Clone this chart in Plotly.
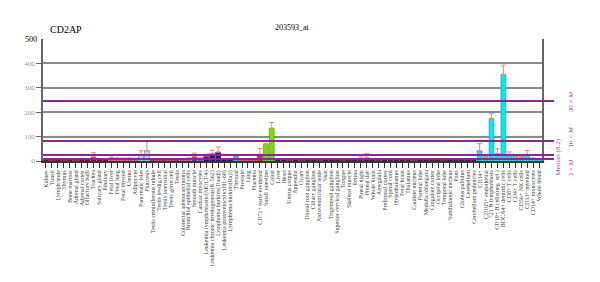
import plotly.graph_objects as go

samples = [
    "Kidney", "Tonsil", "Lymph node", "Thymus", "Bone marrow", "Adrenal gland", "Adrenal cortex",
    "Olfactory bulb", "Trachea", "Salivary gland", "Pituitary", "Fetal liver", "Fetal lung",
    "Fetal thyroid", "Uterus", "Adipocyte", "Pancreatic Islet", "Pancreas",
    "Testis seminiferous tubule", "Testis leydig cell", "Testis interstitial", "Testis germ cell",
    "Testis", "Colorectal adenocarcinoma", "Bronchial epithelial cells", "Smooth muscle",
    "Cardiac myocytes", "Leukemia lymphoblastic(MOLT-4)", "Leukemia chronic myelogenous(K-562)",
    "Lymphoma burkitts(Daudi)", "Leukemia promyelocytic(HL-60)", "Lymphoma burkitts(Raji)",
    "Thyroid", "Prostate", "Lung", "Placenta", "CD71+ early erythroid", "Small intestine",
    "Colon", "Liver", "Heart", "Uterus corpus", "Appendix", "Ovary", "Dorsal root ganglion",
    "Ciliary ganglion", "Atrioventricular node", "Skin", "Trigeminal ganglion",
    "Superior cervical ganglion", "Tongue", "Skeletal muscle", "Retina", "Pineal night",
    "Pineal day", "Whole brain", "Amygdala", "Prefrontal cortex", "Spinal cord", "Hypothalamus",
    "Fetal brain", "Thalamus", "Caudate nucleus", "Parietal lobe", "Medulla oblongata",
    "Cingulate cortex", "Occipital lobe", "Temporal lobe", "Subthalamic nucleus", "Pons",
    "Globus pallidus", "Cerebellum", "Cerebellum peduncles", "CD34+", "CD105+ endothelial",
    "721 B lymphoblasts", "CD19+ B cells(neg. sel.)", "BDCA4+ dentritic cells", "CD8+ T cells",
    "CD4+ T cells", "CD56+ NK cells", "CD33+ myeloid", "CD14+ monocytes", "Whole blood",
]

values = [
    6, 5, 7, 5, 8, 5, 6, 7, 16, 6, 7, 12, 10, 9, 10, 9, 24, 42,
    6, 5, 6, 5, 6, 7, 10, 18, 11, 20, 30, 36, 7, 8,
    21, 6, 7, 8, 27, 68, 134, 6, 8, 5, 6, 5, 6,
    6, 5, 7, 6, 6, 5, 6, 7, 9, 12, 6, 5, 6, 7, 6,
    8, 6, 5, 6, 7, 6, 6, 5, 6, 7,
    6, 7, 8, 43, 20, 174, 30, 355, 27, 20, 18, 27, 10, 9,
]

errors = [
    2, 1, 2, 1, 2, 1, 2, 2, 18, 2, 2, 4, 3, 3, 3, 3, 18, 37,
    1, 1, 1, 1, 1, 2, 3, 14, 4, 8, 14, 22, 2, 3,
    4, 1, 2, 2, 24, 4, 24, 2, 3, 1, 2, 1, 2,
    1, 1, 2, 1, 1, 1, 1, 2, 7, 18, 1, 1, 1, 2, 1,
    2, 1, 1, 1, 2, 1, 1, 1, 1, 2,
    1, 2, 2, 28, 4, 20, 20, 38, 10, 6, 4, 16, 3, 2,
]

MEDIAN = 8.2
multiples = [1, 3, 10, 30]
multiple_labels = ["Median (8.2)", "3 × <i>M</i>", "10 × <i>M</i>", "30 × <i>M</i>"]

group_colors = (
    ["#7a1838"] * 11 + ["#d86a86"] * 5 + ["#b6e4e4"] * 2 + ["#b83a5c"] * 5 +
    ["#d06a8a", "#d06a8a", "#3e5cc0", "#c05a80"] + ["#1c1a86"] * 5 + ["#30c8d8"] +
    ["#c05a80"] * 3 + ["#cc3b3b"] + ["#77dd11"] * 2 + ["#5a1850"] * 34 + ["#11e3ee"] * 11
)
line_colors = (
    ["#5a1028"] * 11 + ["#b04a66"] * 5 + ["#4aa8a8"] * 2 + ["#8a2a44"] * 5 +
    ["#a04a6a", "#a04a6a", "#2a3c90", "#a04a6a"] + ["#10105a"] * 5 + ["#1a98a8"] +
    ["#a04a6a"] * 3 + ["#992222"] + ["#4aa000"] * 2 + ["#3a1034"] * 34 + ["#10b0c0"] * 11
)

Y_MAX = 500

fig = go.Figure()
fig.add_trace(go.Bar(
    x=samples, y=values,
    marker=dict(color=group_colors, line=dict(color=line_colors, width=0.7)),
    error_y=dict(type="data", symmetric=False, array=errors, arrayminus=[0] * len(errors),
                 color="#f08c5a", thickness=1, width=2.5),
    width=0.82,
    showlegend=False,
))

serif = "Liberation Serif, Times New Roman, serif"
purple = "#8e2596"

shapes = []
for k in multiples:
    shapes.append(dict(type="line", xref="paper", yref="y", x0=0, x1=1.024,
                       y0=MEDIAN * k, y1=MEDIAN * k, line=dict(color=purple, width=2)))

annotations = [
    dict(text="CD2AP", xref="paper", yref="paper", x=0.01, y=1.02, xanchor="left", yanchor="bottom",
         showarrow=False, font=dict(family=serif, size=10, color="#000")),
    dict(text="203593_at", xref="paper", yref="paper", x=0.5, y=1.045, xanchor="center", yanchor="bottom",
         showarrow=False, font=dict(family=serif, size=8, color="#000")),
    dict(text="500", xref="paper", yref="paper", x=-0.008, y=1.0, xanchor="right", yanchor="middle",
         showarrow=False, font=dict(family=serif, size=8, color="#000")),
]
label_pos = {  # (paper x, paper y) for each multiple label
    1: (1.032, 0.036), 3: (1.058, -0.054), 10: (1.058, 0.2), 30: (1.058, 0.49),
}
for k, lab in zip(multiples, multiple_labels):
    px, py = label_pos[k]
    annotations.append(dict(text=lab, xref="paper", yref="paper", x=px, y=py, textangle=-90,
                            xanchor="center", yanchor="middle", showarrow=False,
                            font=dict(family=serif, size=7, color="#b040b0")))

fig.update_layout(
    template="none",
    shapes=shapes, annotations=annotations,
    width=600, height=282,
    margin=dict(l=35, r=66, t=31, b=129, autoexpand=False),
    paper_bgcolor="white", plot_bgcolor="white",
    bargap=0.15,
    xaxis=dict(
        tickmode="array", tickvals=samples, ticktext=samples, automargin=False,
        tickangle=-90, tickfont=dict(family=serif, size=6, color="#444"),
        ticks="outside", ticklen=5, tickcolor="#333", showline=True, linecolor="#333",
        linewidth=1.5, mirror=False, showgrid=False, range=[-0.5, len(samples) - 0.5],
    ),
    yaxis=dict(
        automargin=False,
        range=[0, Y_MAX], tickvals=[0, 100, 200, 300, 400], ticktext=["0", "100", "200", "300", "400"],
        tickfont=dict(family=serif, size=7, color="#999"),
        ticks="outside", ticklen=5, tickcolor="#666",
        showline=True, linecolor="#666", linewidth=1.5, mirror=True,
        showgrid=True, gridcolor="#8a8a8a", gridwidth=1.5, zeroline=False,
    ),
)

fig.write_html("out.html")
